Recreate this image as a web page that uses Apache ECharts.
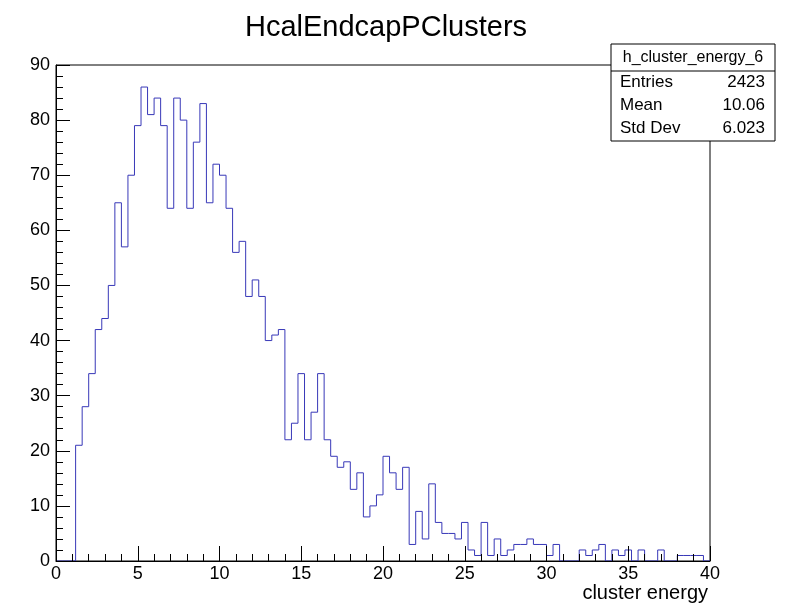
<!DOCTYPE html>
<html>
<head>
<meta charset="utf-8">
<script src="https://cdn.jsdelivr.net/npm/echarts@6/dist/echarts.min.js"></script>
<style>
  html, body { margin: 0; padding: 0; background: #fff; }
  #chart { width: 792px; height: 607px; }
</style>
</head>
<body>
<div id="chart"></div>
<script>
// Histogram h_cluster_energy_6: 100 bins of width 0.4 from 0 to 40
const histTitle = 'HcalEndcapPClusters';
const histName = 'h_cluster_energy_6';
const xAxisTitle = 'cluster energy';
const binLow = 0;
const binWidth = 0.4;
const binCounts = [
  0, 0, 0, 21, 28, 34, 42, 44, 50, 65,
  57, 70, 79, 86, 81, 84, 79, 64, 84, 80,
  64, 76, 83, 65, 72, 70, 64, 56, 58, 48,
  51, 48, 40, 41, 42, 22, 25, 34, 22, 27,
  34, 22, 19, 17, 18, 13, 16, 8, 10, 12,
  19, 16, 13, 17, 3, 9, 4, 14, 7, 5,
  5, 4, 7, 2, 1, 7, 1, 4, 1, 2,
  3, 3, 4, 3, 3, 1, 3, 0, 0, 0,
  2, 1, 2, 3, 0, 2, 1, 2, 0, 2,
  0, 0, 2, 0, 0, 1, 1, 1, 1, 0
];
const statLabels = ['Entries', 'Mean', 'Std Dev'];
const statValues = ['2423', '10.06', '6.023'];
const xTicks = [0, 5, 10, 15, 20, 25, 30, 35, 40];
const yTicks = [0, 10, 20, 30, 40, 50, 60, 70, 80, 90];

// step outline: each point is the low edge of a bin with its count
const stepPoints = binCounts.map((c, i) => [+(binLow + i * binWidth).toFixed(2), c]);
stepPoints.push([+(binLow + binCounts.length * binWidth).toFixed(2), 0]);

const FONT = '"Liberation Sans", Arial, Helvetica, sans-serif';
const chart = echarts.init(document.getElementById('chart'), null, { renderer: 'canvas' });

const boxL = 611, boxT = 44, boxW = 164, boxH = 97, headH = 27, rowH = 23;
const statsGraphics = [
  { type: 'rect', shape: { x: boxL, y: boxT, width: boxW, height: boxH },
    style: { fill: '#fff', stroke: '#000', lineWidth: 1 }, z: 100 },
  { type: 'line', shape: { x1: boxL, y1: boxT + headH, x2: boxL + boxW, y2: boxT + headH },
    style: { stroke: '#000', lineWidth: 1 }, z: 101 },
  { type: 'text', x: boxL + boxW / 2, y: boxT + headH / 2 + 0.5, z: 101,
    style: { text: histName, font: '16px ' + FONT, fill: '#000', align: 'center', verticalAlign: 'middle' } }
];
statLabels.forEach((lab, i) => {
  const cy = boxT + headH + rowH * i + rowH / 2 - 0.5;
  statsGraphics.push({ type: 'text', x: boxL + 9, y: cy, z: 101,
    style: { text: lab, font: '17px ' + FONT, fill: '#000', align: 'left', verticalAlign: 'middle' } });
  statsGraphics.push({ type: 'text', x: boxL + boxW - 10, y: cy, z: 101,
    style: { text: statValues[i], font: '17px ' + FONT, fill: '#000', align: 'right', verticalAlign: 'middle' } });
});

chart.setOption({
  animation: false,
  backgroundColor: '#fff',
  title: {
    text: histTitle,
    left: 240,
    top: 8,
    textStyle: { fontFamily: FONT, fontSize: 29, fontWeight: 'normal', color: '#000' }
  },
  grid: {
    left: 56, right: 82, top: 65, bottom: 46,
    show: true, borderColor: '#000', borderWidth: 1, backgroundColor: 'transparent'
  },
  xAxis: {
    type: 'value',
    min: xTicks[0], max: xTicks[xTicks.length - 1], interval: 5,
    z: 5,
    axisLine: { show: true, onZero: false, lineStyle: { color: '#000', width: 1 } },
    axisTick: { show: true, inside: true, length: 15, lineStyle: { color: '#000' } },
    minorTick: { show: true, splitNumber: 5, length: 7, lineStyle: { color: '#000' } },
    splitLine: { show: false },
    axisLabel: { margin: 4, fontFamily: FONT, fontSize: 18, color: '#000' },
    name: xAxisTitle,
    nameLocation: 'end',
    nameGap: 0,
    nameTextStyle: { fontFamily: FONT, fontSize: 20, color: '#000', align: 'right', verticalAlign: 'top', padding: [22, 2, 0, 0] }
  },
  yAxis: {
    type: 'value',
    min: yTicks[0], max: yTicks[yTicks.length - 1], interval: 10,
    z: 5,
    axisLine: { show: true, onZero: false, lineStyle: { color: '#000', width: 1 } },
    axisTick: { show: true, inside: true, length: 14, lineStyle: { color: '#000' } },
    minorTick: { show: true, splitNumber: 5, length: 7, lineStyle: { color: '#000' } },
    splitLine: { show: false },
    axisLabel: { margin: 6, fontFamily: FONT, fontSize: 18, color: '#000' }
  },
  series: [{
    type: 'line',
    step: 'end',
    data: stepPoints,
    showSymbol: false,
    symbol: 'none',
    lineStyle: { color: '#3838b8', width: 1 },
    z: 2
  }],
  graphic: statsGraphics
});
</script>
</body>
</html>
